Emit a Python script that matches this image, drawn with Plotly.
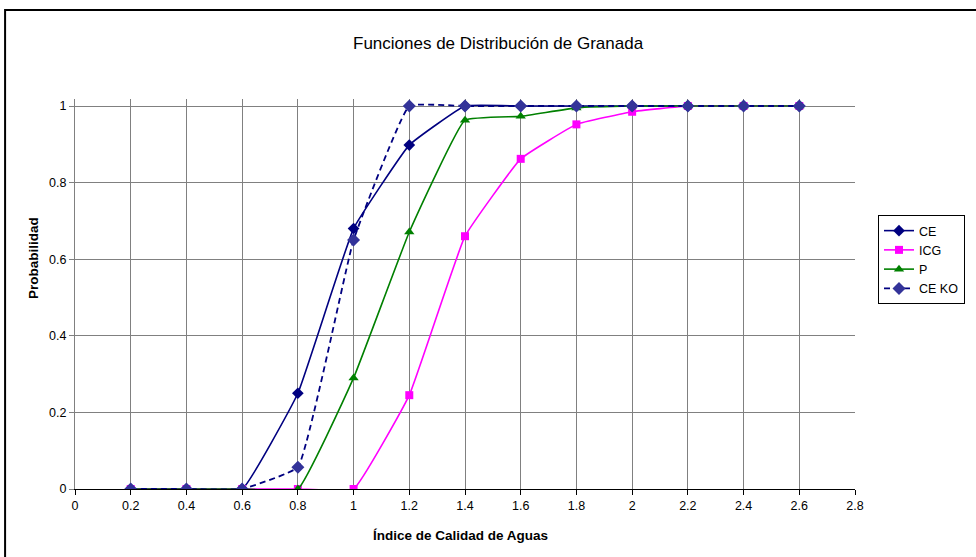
import plotly.graph_objects as go

# Quality index values (x) and cumulative probabilities per series
indice = [0.2, 0.4, 0.6, 0.8, 1.0, 1.2, 1.4, 1.6, 1.8, 2.0, 2.2, 2.4, 2.6]
ce = [0, 0, 0, 0.25, 0.68, 0.898, 1, 1, 1, 1, 1, 1, 1]
icg = [0, 0, 0, 0, 0, 0.245, 0.66, 0.862, 0.952, 0.985, 1, 1, 1]
p = [0, 0, 0, 0, 0.29, 0.671, 0.963, 0.973, 0.995, 1, 1, 1, 1]
ce_ko = [0, 0, 0, 0.057, 0.65, 1, 1, 1, 1, 1, 1, 1, 1]

x_ticks = [0, 0.2, 0.4, 0.6, 0.8, 1, 1.2, 1.4, 1.6, 1.8, 2, 2.2, 2.4, 2.6, 2.8]
y_ticks = [0, 0.2, 0.4, 0.6, 0.8, 1]

FONT = "Liberation Sans, Arial, sans-serif"
SMOOTH = 0.3

fig = go.Figure()
fig.add_trace(go.Scatter(
    x=indice, y=ce, name="CE", mode="lines+markers",
    line=dict(color="#000080", width=1.6, shape="spline", smoothing=SMOOTH),
    marker=dict(symbol="diamond", size=9, color="#000080"),
))
fig.add_trace(go.Scatter(
    x=indice, y=icg, name="ICG", mode="lines+markers",
    line=dict(color="#FF00FF", width=1.6, shape="spline", smoothing=SMOOTH),
    marker=dict(symbol="square", size=8, color="#FF00FF"),
))
fig.add_trace(go.Scatter(
    x=indice, y=p, name="P", mode="lines+markers",
    line=dict(color="#008000", width=1.6, shape="spline", smoothing=SMOOTH),
    marker=dict(symbol="triangle-up", size=9, color="#008000"),
))
fig.add_trace(go.Scatter(
    x=indice, y=ce_ko, name="CE KO", mode="lines+markers",
    line=dict(color="#000080", width=1.8, dash="6px,4px", shape="spline", smoothing=SMOOTH),
    marker=dict(symbol="diamond", size=10, color="#333399"),
))

L, R, T, B = 75, 120, 99, 68
W, H = 976, 557
pw, ph = W - L - R, H - T - B

def px_x(px):
    return (px - L) / pw

def px_y(py):
    return (H - B - py) / ph

fig.update_layout(
    width=W, height=H,
    margin=dict(l=L, r=R, t=T, b=B, pad=0),
    paper_bgcolor="white", plot_bgcolor="white",
    font=dict(family=FONT, size=12, color="black"),
    showlegend=True,
    legend=dict(
        x=px_x(878), y=px_y(215), xanchor="left", yanchor="top",
        bordercolor="black", borderwidth=1, bgcolor="white",
        font=dict(family=FONT, size=12.5, color="black"),
        itemwidth=30, tracegroupgap=0,
    ),
    xaxis=dict(
        range=[0, 2.8], tickvals=x_ticks, ticktext=[f"{v:g}" for v in x_ticks],
        showgrid=True, gridcolor="#808080", gridwidth=1,
        zeroline=False, showline=True, linecolor="black", linewidth=1,
        ticks="outside", ticklen=5, tickcolor="black",
        tickfont=dict(size=12.5),
    ),
    yaxis=dict(
        range=[0, (H - B - T) / 383.0], tickvals=y_ticks, ticktext=[f"{v:g}" for v in y_ticks],
        showgrid=True, gridcolor="#808080", gridwidth=1,
        zeroline=False, showline=True, linecolor="#808080", linewidth=1,
        ticks="outside", ticklen=5, tickcolor="#808080",
        tickfont=dict(size=12.5),
    ),
    annotations=[
        dict(
            text="Funciones de Distribución de Granada", xref="paper", yref="paper",
            x=px_x(499), y=px_y(43), xanchor="center", yanchor="middle",
            showarrow=False, font=dict(family=FONT, size=17, color="black"),
        ),
        dict(
            text="<b>Índice de Calidad de Aguas</b>", xref="paper", yref="paper",
            x=px_x(461), y=px_y(535), xanchor="center", yanchor="middle",
            showarrow=False, font=dict(family=FONT, size=13.5, color="black"),
        ),
        dict(
            text="<b>Probabilidad</b>", xref="paper", yref="paper", textangle=-90,
            x=px_x(33), y=px_y(258), xanchor="center", yanchor="middle",
            showarrow=False, font=dict(family=FONT, size=13.5, color="black"),
        ),
    ],
    shapes=[dict(
        type="rect", xref="paper", yref="paper", layer="above",
        x0=px_x(5), x1=px_x(1010), y0=px_y(600), y1=px_y(10),
        line=dict(color="black", width=2), fillcolor="rgba(0,0,0,0)",
    )],
)

fig.write_html("out.html")
